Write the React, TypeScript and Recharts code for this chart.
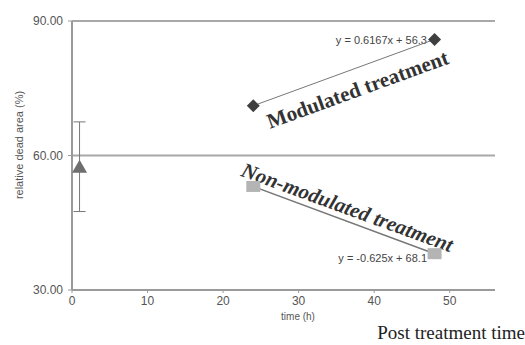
import React from 'react';
import {
  ComposedChart,
  Scatter,
  XAxis,
  YAxis,
  CartesianGrid,
  ErrorBar,
} from 'recharts';

const xTicks = [0, 10, 20, 30, 40, 50];
const yTicks = [30, 60, 90];

const baseline = [{ x: 1, y: 57.5, err: 10 }];
const modulated = [
  { x: 24, y: 71.1 },
  { x: 48, y: 85.9 },
];
const nonModulated = [
  { x: 24, y: 53.1 },
  { x: 48, y: 38.1 },
];
const modulatedFit = [
  { x: 24, y: 71.1 },
  { x: 48, y: 85.9 },
];
const nonModulatedFit = [
  { x: 24, y: 53.1 },
  { x: 48, y: 38.1 },
];

const sans = 'Liberation Sans, Arial, sans-serif';
const serif = 'Liberation Serif, Times New Roman, serif';

const Diamond = (p: any) => (
  <polygon
    points={`${p.cx},${p.cy - 6.5} ${p.cx + 6.5},${p.cy} ${p.cx},${p.cy + 6.5} ${p.cx - 6.5},${p.cy}`}
    fill="#3f3f3f"
  />
);

const Square = (p: any) => (
  <rect x={p.cx - 7} y={p.cy - 5.5} width={14} height={11} fill="#b4b4b4" />
);

const Triangle = (p: any) => (
  <polygon
    points={`${p.cx},${p.cy - 7} ${p.cx + 7.5},${p.cy + 6} ${p.cx - 7.5},${p.cy + 6}`}
    fill="#6e6e6e"
  />
);

const Nothing = () => <g />;

export default function App() {
  return (
    <div style={{ position: 'absolute', left: 0, top: 0, background: '#fff' }}>
      <ComposedChart width={525} height={345} margin={{ top: 21, right: 30, bottom: 25, left: 0 }}>
        <CartesianGrid horizontal vertical={false} stroke="#a8a8a8" strokeWidth={2} />
        <XAxis
          type="number"
          dataKey="x"
          domain={[0, 56]}
          ticks={xTicks}
          height={30}
          axisLine={{ stroke: '#9a9a9a', strokeWidth: 2 }}
          tickLine={{ stroke: '#9a9a9a' }}
          tickSize={3}
          tickMargin={3}
          tick={{ fontSize: 12, fill: '#555', fontFamily: sans }}
        />
        <YAxis
          type="number"
          dataKey="y"
          domain={[30, 90]}
          ticks={yTicks}
          width={72}
          tickFormatter={(v: number) => v.toFixed(2)}
          axisLine={{ stroke: '#9a9a9a', strokeWidth: 2 }}
          tickLine={{ stroke: '#9a9a9a' }}
          tickSize={4}
          tickMargin={5}
          tick={{ fontSize: 12, fill: '#555', fontFamily: sans }}
        />
        <Scatter data={modulatedFit} line={{ stroke: '#777', strokeWidth: 1 }} shape={Nothing} isAnimationActive={false} />
        <Scatter data={nonModulatedFit} line={{ stroke: '#777', strokeWidth: 1.5 }} shape={Nothing} isAnimationActive={false} />
        <Scatter data={baseline} shape={Triangle} isAnimationActive={false}>
          <ErrorBar dataKey="err" direction="y" width={6} stroke="#777" strokeWidth={1} />
        </Scatter>
        <Scatter data={modulated} shape={Diamond} isAnimationActive={false} />
        <Scatter data={nonModulated} shape={Square} isAnimationActive={false} />

        <text x={20} y={145} transform="rotate(-90 20 145)" textAnchor="middle" dominantBaseline="middle"
          fontSize={11} fill="#555" fontFamily={sans}>relative dead area (%)</text>
        <text x={427} y={44} textAnchor="end" fontSize={11} fill="#444" fontFamily={sans}>y = 0.6167x + 56.3</text>
        <text x={427} y={262} textAnchor="end" fontSize={11} fill="#444" fontFamily={sans}>y = -0.625x + 68.1</text>
        <text x={360} y={96} transform="rotate(-20 360 96)" textAnchor="middle" fontSize={21} fontWeight="bold"
          fill="#333" fontFamily={serif}>Modulated treatment</text>
        <text x={345} y={214} transform="rotate(20 345 214)" textAnchor="middle" fontSize={21} fontWeight="bold"
          fontStyle="italic" fill="#333" fontFamily={serif}>Non-modulated treatment</text>
        <text x={298} y={320} textAnchor="middle" fontSize={10} fill="#555" fontFamily={sans}>time (h)</text>
        <text x={525} y={339} textAnchor="end" fontSize={19} fill="#222" fontFamily={serif}>Post treatment time</text>
      </ComposedChart>
    </div>
  );
}
